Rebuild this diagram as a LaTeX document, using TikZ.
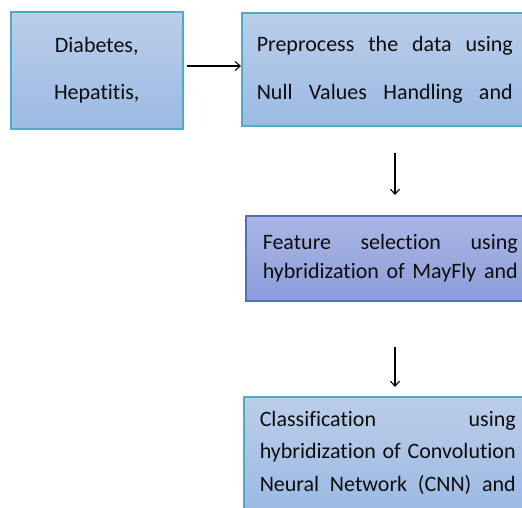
\documentclass[tikz,border=0pt]{standalone}
\usepackage{fontspec}
\setmainfont{Carlito}[Ligatures={NoCommon}]
\usetikzlibrary{arrows.meta,positioning}

\definecolor{boxtop}{RGB}{187,206,234}
\definecolor{boxbot}{RGB}{156,186,227}
\definecolor{boxline}{RGB}{75,172,198}
\definecolor{seltop}{RGB}{170,182,229}
\definecolor{selbot}{RGB}{140,157,218}
\definecolor{selline}{RGB}{82,110,186}

\newcommand{\justall}{\parfillskip=0pt\hyphenpenalty=10000\tolerance=10000\relax}

\begin{document}
\begin{tikzpicture}[
  x=1pt, y=-1pt,
  stage/.style={draw=boxline, line width=1.5pt, top color=boxtop,
                bottom color=boxbot, anchor=north west, text=black!95,
                font=\fontsize{22}{47}\selectfont, inner ysep=0pt},
  selstage/.style={stage, draw=selline, top color=seltop, bottom color=selbot},
  sig/.style={draw=black, line width=1.1pt, -{Straight Barb[length=5pt,width=9pt]}},
]
\clip (0,0) rectangle (522,507);
\useasboundingbox (0,0) rectangle (522,507);

% ---------- boxes ----------
\node[stage, minimum width=172pt, minimum height=117pt, align=center] (data) at (10,11)
  {Diabetes,\\Hepatitis,};
\node[stage, minimum height=113pt, text width=256pt, inner xsep=15pt, align=justify,
      font=\fontsize{22}{48}\selectfont] (prep) at (241,12)
  {\justall Preprocess the data using\linebreak Null Values Handling and\par};
\node[selstage, minimum height=85pt, text width=255pt, inner xsep=17pt, align=justify,
      font=\fontsize{22}{29}\selectfont] (feat) at (245,215)
  {\justall Feature selection using\linebreak hybridization of MayFly and\par};
\node[stage, minimum height=112pt, text width=256pt, inner xsep=16pt, align=justify,
      font=\fontsize{22}{32.5}\selectfont] (clf) at (243,396)
  {\justall Classification using\linebreak hybridization of Convolution\linebreak
   Neural Network (CNN) and\par};

% ---------- arrows ----------
\coordinate (mid) at (395,0);
\draw[sig, shorten <=3pt] (data.east |- 0,66) -- (prep.west |- 0,66);
\draw[sig, shorten <=26pt, shorten >=20pt] (prep.south -| mid) -- (feat.north -| mid);
\draw[sig, shorten <=45pt, shorten >=9pt] (feat.south -| mid) -- (clf.north -| mid);

\end{tikzpicture}
\end{document}
